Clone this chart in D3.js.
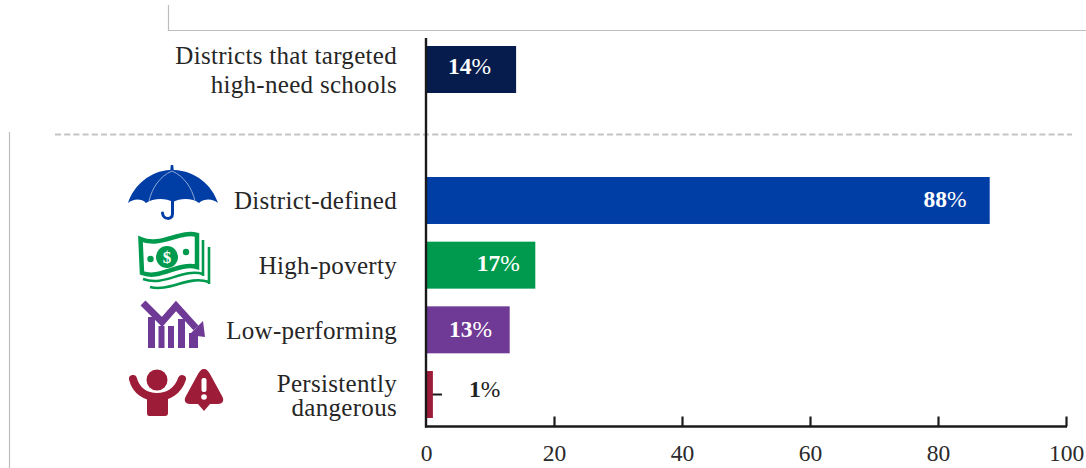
<!DOCTYPE html>
<html>
<head>
<meta charset="utf-8">
<script src="https://cdnjs.cloudflare.com/ajax/libs/d3/7.8.5/d3.min.js"></script>
<style>
  html, body { margin: 0; padding: 0; background: #fff; }
  svg { display: block; }
  text { font-family: "Liberation Serif", serif; }
</style>
</head>
<body>
<div id="chart"></div>
<script>
// Share of districts, in percent
const overallCategory = ["Districts that targeted high-need schools"];
const overallValues = [14];
const overallColors = ["#051c4d"];
const categories = ["District-defined", "High-poverty", "Low-performing", "Persistently dangerous"];
const values = [88, 17, 13, 1];
const barColors = ["#003da5", "#009a4e", "#6f3996", "#9d1c38"];
const labelLines = [["District-defined"], ["High-poverty"], ["Low-performing"], ["Persistently", "dangerous"]];
const overallLines = [["Districts that targeted", "high-need schools"]];
const xTicks = [0, 20, 40, 60, 80, 100];

const width = 1086, height = 468;
const axisY = 426.5, textRight = 397;

const svg = d3.select("#chart").append("svg").attr("width", width).attr("height", height);

const x = d3.scaleLinear().domain([0, 100]).range([426, 1066]);
const yTop = d3.scaleBand().domain(overallCategory).range([46, 93]);
const y = d3.scaleBand().domain(categories).range([177, 418]).paddingInner(0.2736).paddingOuter(0);

// Frame rules
const rule = "#bdbdbd";
svg.append("path").attr("d", "M168.5,5V30.5H1086").attr("fill", "none").attr("stroke", rule).attr("stroke-width", 1.2);
svg.append("line").attr("x1", 9.5).attr("x2", 9.5).attr("y1", 132).attr("y2", 468).attr("stroke", rule).attr("stroke-width", 1.2);

// Leader tick for the bar too short to hold its own label
svg.append("line")
  .attr("x1", x(0)).attr("x2", x(2.5))
  .attr("y1", y("Persistently dangerous") + y.bandwidth() / 2)
  .attr("y2", y("Persistently dangerous") + y.bandwidth() / 2)
  .attr("stroke", "#1a1a1a").attr("stroke-width", 2);

// Bars
svg.append("g").selectAll("rect").data(overallCategory).join("rect")
  .attr("x", x(0)).attr("y", d => yTop(d))
  .attr("width", (d, i) => x(overallValues[i]) - x(0) + 0.5)
  .attr("height", yTop.bandwidth())
  .attr("fill", (d, i) => overallColors[i]);

svg.append("g").selectAll("rect").data(categories).join("rect")
  .attr("x", x(0)).attr("y", d => y(d))
  .attr("width", (d, i) => x(values[i]) - x(0) + 0.5)
  .attr("height", y.bandwidth())
  .attr("fill", (d, i) => barColors[i]);

// Dashed divider between the two groups
svg.append("line").attr("x1", 55).attr("x2", 1072).attr("y1", 134.5).attr("y2", 134.5)
  .attr("stroke", "#c4c4c4").attr("stroke-width", 2).attr("stroke-dasharray", "6 3.2");

// Axes
const axisColor = "#1a1a1a";
svg.append("line").attr("x1", x(0)).attr("x2", x(0)).attr("y1", 38).attr("y2", axisY + 1)
  .attr("stroke", axisColor).attr("stroke-width", 2.4);
const xAxis = d3.axisBottom(x).tickValues(xTicks).tickSize(0).tickPadding(18).tickFormat(d3.format("d"));
const gx = svg.append("g").attr("transform", `translate(0,${axisY})`).call(xAxis);
gx.select(".domain").attr("stroke", axisColor).attr("stroke-width", 2.4).attr("d", `M${x(0)-1},0H${x(100)+1}`);
gx.selectAll(".tick text").attr("font-size", 23.5).attr("fill", "#2a2a2a").attr("font-family", "Liberation Serif");
gx.selectAll(".tick").filter(d => d > 0).append("line").attr("y1", 0).attr("y2", -10)
  .attr("stroke", axisColor).attr("stroke-width", 2.2);

// Category labels
function drawLabel(lines, centerY, lh) {
  const t = svg.append("text").attr("text-anchor", "end").attr("font-size", 25)
    .attr("fill", "#262626").attr("letter-spacing", 0.3);
  lines.forEach((ln, i) => {
    t.append("tspan").attr("x", textRight)
      .attr("y", centerY + 9 + (i - (lines.length - 1) / 2) * lh).text(ln);
  });
}
overallCategory.forEach((c, i) => drawLabel(overallLines[i], yTop(c) + yTop.bandwidth() / 2, 28.5));
const labelLeading = [0, 0, 0, 24];
categories.forEach((c, i) => drawLabel(labelLines[i], y(c) + y.bandwidth() / 2, labelLeading[i]));

// Value labels: bold figures with a regular-weight percent sign
function drawValue(v, cx, baseline, color) {
  const t = svg.append("text").attr("x", cx).attr("y", baseline).attr("text-anchor", "middle")
    .attr("font-size", 23.5).attr("fill", color);
  t.append("tspan").attr("font-weight", 700).text(v);
  t.append("tspan").text("%");
}
const mid = c => y(c) + y.bandwidth() / 2;
drawValue(overallValues[0], x(6.8), yTop(overallCategory[0]) + yTop.bandwidth() / 2 + 4.5, "#fff");
drawValue(values[0], x(81.1), mid(categories[0]) + 7, "#fff");
drawValue(values[1], x(11.3), mid(categories[1]) + 5.5, "#fff");
drawValue(values[2], x(6.95), mid(categories[2]) + 7, "#fff");
drawValue(values[3], x(9.15), mid(categories[3]) + 2, "#222");

// Umbrella icon
const umbrella = svg.append("g").attr("fill", barColors[0]);
umbrella.append("path").attr("d", "M170.8,165h2.4l.5,5C196,171 212,185 218,203C213,199 205,198 199,203C193,198 180,198 173,202C166,198 153,198 146,203C141,198 133,199 128,203C134,185 150,171 170.3,170Z");
umbrella.append("path").attr("fill", "none").attr("stroke", barColors[0]).attr("stroke-width", 3).attr("stroke-linecap", "round")
  .attr("d", "M172.5,200V214C172.5,220 163,220 162.5,213");
umbrella.append("path").attr("fill", "none").attr("stroke", "#8fa8d8").attr("stroke-width", 1)
  .attr("d", "M172,171C160,176 152,188 149,201M172,171C184,176 192,188 195,201");

// Banknote stack icon
const money = svg.append("g").attr("fill", "none").attr("stroke", barColors[1]).attr("stroke-width", 3);
money.append("path").attr("stroke-width", 4.5).attr("d", "M140.5,239C160,248 180,230 197,235V267C178,262 160,280 142,273Z");
money.append("path").attr("stroke-width", 2.6).attr("d", "M203,240V276M209,247V284M143,279C165,287 182,268 203,274M150,287C170,292 188,275 209,282");
money.append("circle").attr("cx", 167).attr("cy", 257).attr("r", 11).attr("fill", barColors[1]).attr("stroke", "none");
money.append("circle").attr("cx", 150.5).attr("cy", 259).attr("r", 3.2).attr("fill", barColors[1]).attr("stroke", "none");
money.append("circle").attr("cx", 186).attr("cy", 252).attr("r", 3.2).attr("fill", barColors[1]).attr("stroke", "none");
svg.append("text").attr("x", 167).attr("y", 263).attr("text-anchor", "middle").attr("font-size", 17)
  .attr("font-weight", 700).attr("fill", "#fff").attr("font-family", "Liberation Sans").text("$");

// Falling-trend icon
const trend = svg.append("g").attr("fill", barColors[2]);
trend.append("path").attr("d", "M148,317H155V348H148ZM158.5,326H164.5V348H158.5ZM168,326H174V348H168ZM178,319H185V348H178ZM189,333H198V348H189Z");
trend.append("path").attr("fill", "none").attr("stroke", barColors[2]).attr("stroke-width", 7)
  .attr("d", "M143,303L162,322L176,306L196,328");
trend.append("path").attr("d", "M189,335L203,321L205,337Z");

// Person-and-warning icon
const alertIcon = svg.append("g").attr("fill", barColors[3]);
alertIcon.append("circle").attr("cx", 157).attr("cy", 380).attr("r", 10.5);
alertIcon.append("path").attr("d", "M147,393H168V413C168,415 167,416 165,416H149C148,416 147,415 147,413Z");
alertIcon.append("path").attr("fill", "none").attr("stroke", barColors[3]).attr("stroke-width", 8).attr("stroke-linecap", "round")
  .attr("d", "M133,379C136,391 146,397 157,397C168,397 178,391 182,379");
alertIcon.append("path").attr("d", "M204,369C207,369 208,371 210,374L222,396C225,401 222,404 218,404H210L204,411L198,404H190C186,404 183,401 186,396L198,374C200,371 201,369 204,369Z");
alertIcon.append("rect").attr("x", 201.5).attr("y", 378).attr("width", 5).attr("height", 14).attr("rx", 2).attr("fill", "#fff");
alertIcon.append("circle").attr("cx", 204).attr("cy", 397).attr("r", 2.8).attr("fill", "#fff");
</script>
</body>
</html>
